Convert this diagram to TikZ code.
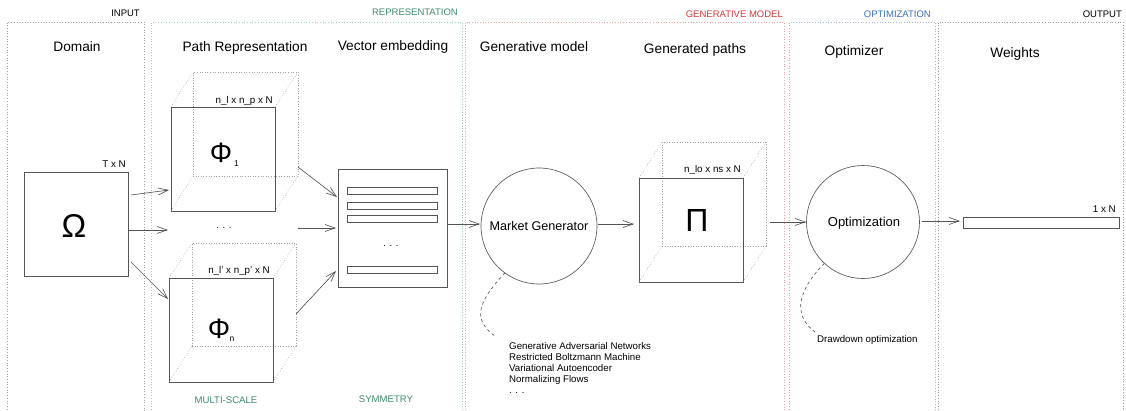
\documentclass[tikz,border=0pt]{standalone}
\usepackage{fontspec}
\setmainfont{Liberation Sans}
\usetikzlibrary{arrows.meta,calc}
\definecolor{linec}{HTML}{555555}
\definecolor{repgreen}{HTML}{3E8C6C}
\definecolor{genred}{HTML}{CC3B3B}
\definecolor{optblue}{HTML}{3D6FB6}
\definecolor{frgray}{HTML}{A0A0A0}
\definecolor{frgreen}{HTML}{9CCFBE}
\definecolor{frred}{HTML}{EEA3A3}
\definecolor{frblue}{HTML}{A8B4E2}
\begin{document}
\begin{tikzpicture}[x=1pt,y=-1pt,
  frame/.style={dotted, line width=0.7pt},
  box/.style={draw=linec, line width=0.75pt, inner sep=0pt, outer sep=0pt, rectangle},
  backbox/.style={draw=frgray, dotted, line width=0.6pt, inner sep=0pt, outer sep=0pt, rectangle},
  edge3d/.style={draw=frgray, dotted, line width=0.6pt},
  arr/.style={draw=linec, line width=0.65pt, -{Straight Barb[length=10pt,width=7pt]}},
  circ/.style={draw=linec, line width=0.65pt, circle, inner sep=0pt, outer sep=0pt},
  dashc/.style={draw=linec, line width=0.65pt, dash pattern=on 3pt off 3pt},
  paneltitle/.style={font=\fontsize{9.5}{10}\selectfont, inner sep=0pt, anchor=east},
  title/.style={font=\fontsize{13.7}{16}\selectfont, inner sep=0pt},
  dimlabel/.style={font=\fontsize{9.8}{10}\selectfont, inner sep=0pt, anchor=east},
  small/.style={font=\fontsize{9.6}{10}\selectfont, inner sep=0pt},
  greek/.style={inner sep=0pt}
]
\useasboundingbox (0,0) rectangle (1126,410);

% panel frames
\draw[frame, draw=frgray]  (7,412)   |- (144,22) -- (144,412);
\draw[frame, draw=frgreen] (151,412) |- (462,22) -- (462,412);
\draw[frame, draw=frred]   (465,412) |- (784,22) -- (784,412);
\draw[frame, draw=frblue]  (789,412) |- (935,22) -- (935,412);
\draw[frame, draw=frgray]  (938,412) |- (1123,22) -- (1123,412);

% panel labels
\node[paneltitle] (lin)  at (140,13)  {INPUT};
\node[paneltitle, text=repgreen] (lrep) at (458,12) {REPRESENTATION};
\node[paneltitle, text=genred]   (lgen) at (783,14) {GENERATIVE MODEL};
\node[paneltitle, text=optblue]  (lopt) at (931,14) {OPTIMIZATION};
\node[paneltitle] (lout) at (1122,14) {OUTPUT};

% titles
\node[title] (tdom)  at (77,47)   {Domain};
\node[title] (tpath) at (245,48)  {Path Representation};
\node[title] (tvec)  at (393,47)  {Vector embedding};
\node[title] (tgen)  at (534,47)  {Generative model};
\node[title] (tgp)   at (695,50)  {Generated paths};
\node[title] (topt)  at (854,52)  {Optimizer};
\node[title] (tw)    at (1015,54) {Weights};

% Omega
\node[box, minimum width=104pt, minimum height=104pt] (omega) at (76,224) {};
\node[greek, font=\fontsize{33}{33}\selectfont] (omsym) at (74,226) {Ω};
\node[dimlabel] (tn) at (126,164) {T x N};

% Phi_1 cube
\node[backbox, minimum width=105pt, minimum height=104pt] (phi1b) at (245.5,124) {};
\node[box, minimum width=104pt, minimum height=104pt] (phi1) at (223,159) {};
\foreach \a in {north west, north east, south west, south east}
  \draw[edge3d] (phi1.\a) -- (phi1b.\a);
\node[greek, font=\fontsize{28}{28}\selectfont] (phi1s) at (221,153) {Φ};
\node[greek, font=\fontsize{8.5}{8.5}\selectfont] (phi1sub) at (236.5,164) {1};
\node[dimlabel] (phi1l) at (273,101) {n\_l x n\_p x N};

% dots between cubes
\node[small] (pdots) at (224,228) {. . .};

% Phi_n cube
\node[backbox, minimum width=104pt, minimum height=103pt] (phinb) at (244,294.5) {};
\node[box, minimum width=104pt, minimum height=104pt] (phin) at (221,330) {};
\foreach \a in {north west, north east, south west, south east}
  \draw[edge3d] (phin.\a) -- (phinb.\a);
\node[greek, font=\fontsize{28}{28}\selectfont] (phins) at (219,329) {Φ};
\node[greek, font=\fontsize{8.5}{8.5}\selectfont] (phinsub) at (232,339) {n};
\node[dimlabel] (phinl) at (270,271) {n\_l' x n\_p' x N};

% vector embedding
\node[box, minimum width=109pt, minimum height=118pt] (vec) at (392.5,228) {};
\node[box, minimum width=90pt, minimum height=7pt] (bar1) at (392,190.5) {};
\node[box, minimum width=90pt, minimum height=7pt] (bar2) at (392,205.5) {};
\node[box, minimum width=90pt, minimum height=7pt] (bar3) at (392,218.5) {};
\node[small] (vdots) at (391,246) {. . .};
\node[box, minimum width=90pt, minimum height=7pt] (bar4) at (392,269.5) {};

% market generator
\node[circ, minimum size=116pt] (market) at (539,226) {};
\node[font=\fontsize{12.6}{14}\selectfont, inner sep=0pt] (markett) at (539,226) {Market Generator};

% Pi cube
\node[backbox, minimum width=104pt, minimum height=104pt] (pib) at (714,194) {};
\node[box, minimum width=104pt, minimum height=104pt] (pi) at (691,230) {};
\foreach \a in {north west, north east, south west, south east}
  \draw[edge3d] (pi.\a) -- (pib.\a);
\node[greek, font=\fontsize{32}{32}\selectfont] (pis) at (697,220) {Π};
\node[dimlabel] (pil) at (741,170) {n\_lo x ns x N};

% optimization
\node[circ, minimum size=113pt] (opt) at (863,222) {};
\node[font=\fontsize{13}{14}\selectfont, inner sep=0pt] (optt) at (864,223) {Optimization};

% weights
\node[box, minimum width=156pt, minimum height=11pt] (wbar) at (1041,222.5) {};
\node[dimlabel] (wl) at (1116,209) {1 x N};

% arrows
\draw[arr] ($(omega.north east)+(3,23)$) -- ($(phi1.north west)+(-2,83)$);
\draw[arr] ($(omega.east)+(1,6)$) -- ($(phi1.south west)+(-3,19)$);
\draw[arr] ($(omega.east)+(3,38)$) -- ($(phin.north west)+(-1,21)$);
\draw[arr] ($(phi1b.south east)+(0,-9)$) -- ($(vec.north west)+(-1,28)$);
\draw[arr] ($(vec.west)+(-40,0)$) -- ($(vec.west)+(-2,0)$);
\draw[arr] ($(phinb.south east)+(0,-32)$) -- ($(vec.south west)+(-2,-16)$);
\draw[arr] ($(vec.east)+(1,-4)$) -- ($(market.west)+(-1,-2)$);
\draw[arr] ($(market.east)+(1,-2)$) -- ($(pi.west)+(-5,-6)$);
\draw[arr] ($(pib.south east)+(4,-24)$) -- ($(opt.west)+(-0.5,0)$);
\draw[arr] ($(opt.east)+(2,-1)$) -- ($(wbar.west)+(-3,-1.5)$);

% dashed annotations
\coordinate (gend) at (496,337);
\draw[dashc] (market.234) .. controls (472,308) and (476,322) .. (gend);
\node[anchor=north west, align=left, inner sep=0pt, font=\fontsize{9.7}{11}\selectfont] (genlist) at (509,342)
  {Generative Adversarial Networks\\Restricted Boltzmann Machine\\Variational Autoencoder\\Normalizing Flows\\. . .};

\coordinate (oend) at (815,332);
\draw[dashc] (opt.227) .. controls (793,295) and (796,318) .. (oend);
\node[small, anchor=west, font=\fontsize{9.7}{11}\selectfont] (ddo) at (817,340) {Drawdown optimization};

% bottom labels
\node[small, text=repgreen] (ms) at (226,400) {MULTI-SCALE};
\node[small, text=repgreen] (sym) at (386,399) {SYMMETRY};
\end{tikzpicture}
\end{document}
